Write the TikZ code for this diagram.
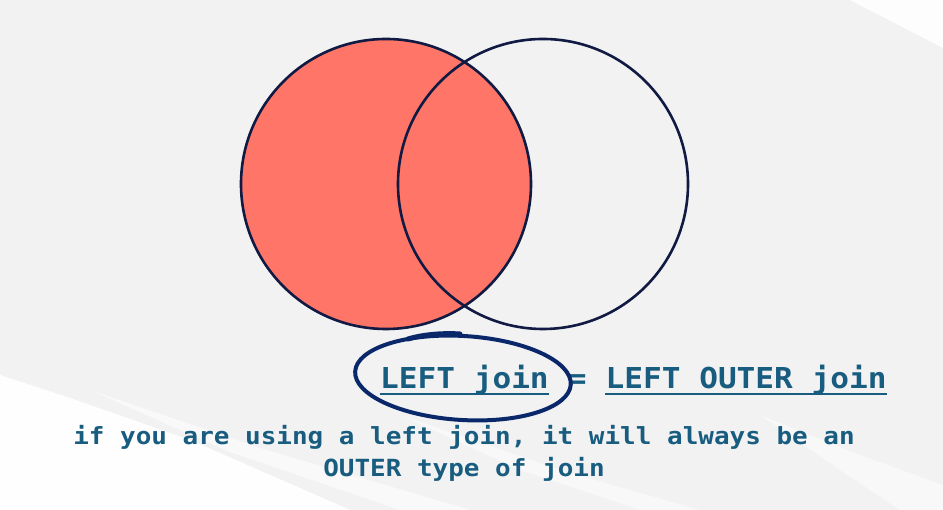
\documentclass[tikz,border=0pt]{standalone}
\usepackage{xcolor}
\usepackage{fontspec}
\newfontfamily\headfont[FakeStretch=1.08]{DejaVu Sans Mono}
\newfontfamily\hintfont[FakeStretch=1.1]{DejaVu Sans Mono}
\usepackage{tikz}
\usetikzlibrary{positioning,calc}
\definecolor{slide}{RGB}{242,242,243}
\definecolor{salmon}{RGB}{255,117,104}
\definecolor{outline}{RGB}{16,26,66}
\definecolor{marker}{RGB}{10,40,105}
\definecolor{caption}{RGB}{24,92,128}

\begin{document}
\begin{tikzpicture}[
    x=1pt, y=1pt,
    setbox/.style={circle, minimum size=290pt, inner sep=0pt},
    title/.style={text=caption, inner sep=0pt, anchor=base west, font=\headfont\bfseries\fontsize{28.8}{28.8}\selectfont},
    hint/.style={text=caption, inner sep=0pt, anchor=base, font=\hintfont\bfseries\fontsize{23.6}{23.6}\selectfont},
    uline/.style={draw=caption, line width=2.4pt},
    brush/.style={fill=white, draw=none}
]
    % slide background with brush strokes
    \fill[slide] (0,0) rectangle (943,510);
    \useasboundingbox (0,0) rectangle (943,510);
    \fill[brush, opacity=0.95] (0,135) -- (70,112) -- (190,70) -- (300,22) -- (350,0) -- (0,0) -- cycle;
    \fill[brush, opacity=0.6] (90,120) -- (260,62) -- (470,0) -- (400,0) -- (230,58) -- cycle;
    \fill[brush, opacity=0.5] (400,95) -- (560,40) -- (700,0) -- (640,0) -- (520,40) -- cycle;
    \fill[brush, opacity=0.5] (760,95) -- (860,55) -- (943,25) -- (943,0) -- (900,0) -- (840,40) -- cycle;
    \fill[brush, opacity=0.9] (850,510) -- (943,510) -- (943,462) -- cycle;

    % the two tables
    \node[setbox, fill=salmon] (lefttab) at (386,326) {};
    \node[setbox] (righttab) at (543,326) {};
    \draw[outline, line width=2.6pt] (lefttab.center) circle (145pt);
    \draw[outline, line width=2.6pt] (righttab.center) circle (145pt);

    % headline
    \node[title] (leftjoin) at (380,121) {LEFT join};
    \node[title] (equals) at ($(leftjoin.base east)+(18.7pt,0)$) {=};
    \node[title] (outerjoin) at ($(equals.base east)+(18.7pt,0)$) {LEFT OUTER join};
    \draw[uline] ($(leftjoin.base west)+(0,-5pt)$) -- ($(leftjoin.base east)+(0,-5pt)$);
    \draw[uline] ($(outerjoin.base west)+(0,-5pt)$) -- ($(outerjoin.base east)+(0,-5pt)$);

    % hand drawn mark round the left join
    \coordinate (mark) at (463,132);
    \draw[marker, line width=4pt, rotate around={-3.5:(mark)}] (mark) ellipse [x radius=108pt, y radius=42pt];
    \draw[marker, line width=5pt, line cap=round] (408,171) .. controls (425,176) and (445,177) .. (460,176);

    % explanation
    \node[hint] (hintone) at (464,65) {if you are using a left join, it will always be an};
    \node[hint] (hinttwo) at (464,33) {OUTER type of join};
\end{tikzpicture}
\end{document}
